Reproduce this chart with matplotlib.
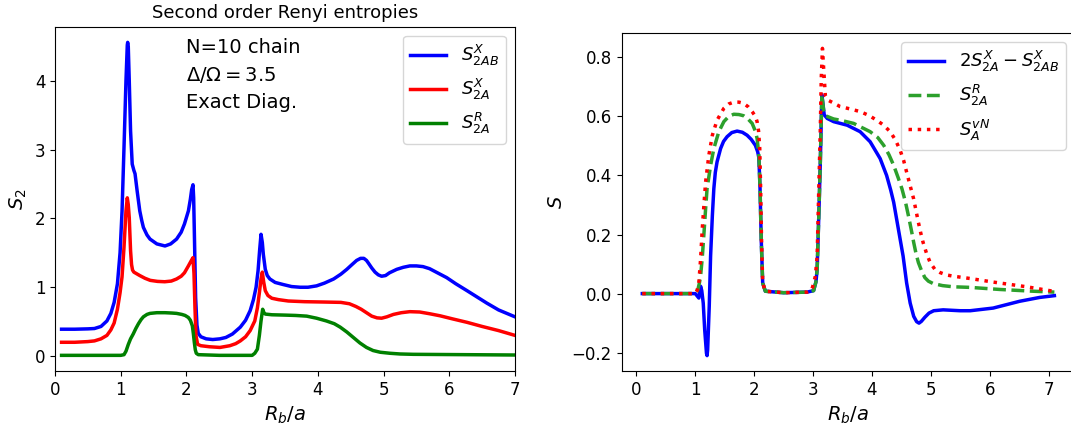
import matplotlib
matplotlib.use("Agg")
import matplotlib.pyplot as plt

# ---- left panel: second order Renyi entropies ----
rb_ab = [0.1, 0.3, 0.5, 0.6, 0.7, 0.79, 0.85, 0.9, 0.95, 0.99, 1.02, 1.05, 1.08,
         1.1, 1.106, 1.115, 1.13, 1.15, 1.175, 1.2, 1.218, 1.25, 1.29, 1.32, 1.345,
         1.4, 1.446, 1.55, 1.674, 1.76, 1.85, 1.92, 1.97, 2.03, 2.06, 2.08, 2.1,
         2.11, 2.12, 2.14, 2.16, 2.18, 2.22, 2.3, 2.4, 2.51, 2.6, 2.7, 2.82, 2.9,
         2.97, 3.02, 3.06, 3.09, 3.115, 3.135, 3.155, 3.17, 3.2, 3.23, 3.27, 3.35,
         3.47, 3.6, 3.73, 3.85, 3.98, 4.1, 4.24, 4.35, 4.44, 4.52, 4.59, 4.65, 4.7,
         4.74, 4.77, 4.82, 4.87, 4.92, 4.97, 5.03, 5.09, 5.2, 5.3, 5.4, 5.5, 5.6,
         5.7, 5.82, 5.96, 6.1, 6.27, 6.42, 6.57, 6.75, 6.9, 7.0]
s2ab = [0.39, 0.39, 0.395, 0.40, 0.43, 0.51, 0.62, 0.78, 1.05, 1.5, 2.1, 3.03, 4.0,
        4.52, 4.56, 4.5, 4.0, 3.27, 2.79, 2.7, 2.65, 2.40, 2.11, 1.97, 1.87,
        1.76, 1.70, 1.63, 1.60, 1.63, 1.70, 1.80, 1.92, 2.11, 2.28, 2.42, 2.49,
        2.3, 1.82, 0.85, 0.45, 0.33, 0.28, 0.25, 0.24, 0.25, 0.27, 0.32, 0.42, 0.52,
        0.66, 0.82, 1.0, 1.24, 1.55, 1.77, 1.65, 1.48, 1.26, 1.17, 1.12, 1.07,
        1.04, 1.01, 1.0, 1.0, 1.02, 1.06, 1.12, 1.19, 1.26, 1.33, 1.39, 1.42, 1.42,
        1.39, 1.35, 1.28, 1.22, 1.18, 1.16, 1.17, 1.21, 1.26, 1.29, 1.31, 1.31, 1.30,
        1.27, 1.21, 1.14, 1.05, 0.95, 0.86, 0.77, 0.67, 0.61, 0.57]

rb_a = [0.1, 0.3, 0.5, 0.6, 0.7, 0.79, 0.85, 0.9, 0.95, 0.99, 1.02, 1.05, 1.08,
        1.1, 1.115, 1.13, 1.15, 1.165, 1.18, 1.2, 1.29, 1.37, 1.45, 1.56, 1.67,
        1.77, 1.85, 1.92, 1.97, 2.03, 2.07, 2.1, 2.115, 2.13, 2.145, 2.17, 2.22,
        2.35, 2.51, 2.66, 2.75, 2.82, 2.9, 2.97, 3.04, 3.08, 3.11, 3.135, 3.155,
        3.175, 3.2, 3.24, 3.3, 3.4, 3.55, 3.8, 4.1, 4.35, 4.48, 4.58, 4.66, 4.74,
        4.82, 4.9, 4.97, 5.05, 5.15, 5.27, 5.4, 5.55, 5.7, 5.86, 6.05, 6.27, 6.5,
        6.75, 7.0]
s2a = [0.20, 0.20, 0.21, 0.22, 0.25, 0.30, 0.38, 0.48, 0.68, 0.92, 1.15, 1.58, 2.11,
       2.30, 2.2, 2.01, 1.53, 1.33, 1.25, 1.22, 1.17, 1.13, 1.10, 1.085, 1.08,
       1.09, 1.12, 1.16, 1.21, 1.31, 1.38, 1.43, 1.2, 0.7, 0.3, 0.17, 0.15,
       0.135, 0.125, 0.15, 0.18, 0.22, 0.28, 0.37, 0.51, 0.7, 0.92, 1.12, 1.22,
       1.08, 0.95, 0.88, 0.84, 0.82, 0.80, 0.79, 0.785, 0.78, 0.76, 0.72, 0.68, 0.63,
       0.58, 0.555, 0.55, 0.57, 0.605, 0.63, 0.645, 0.64, 0.615, 0.585, 0.54, 0.49, 0.43,
       0.37, 0.30]

rb_r = [0.1, 1.0, 1.05, 1.08, 1.116, 1.15, 1.19, 1.23, 1.27, 1.31, 1.345, 1.4,
        1.446, 1.55, 1.674, 1.78, 1.85, 1.93, 1.98, 2.03, 2.06, 2.09, 2.105, 2.12,
        2.135, 2.15, 2.18, 2.5, 3.0, 3.04, 3.08, 3.11, 3.135, 3.16, 3.18, 3.2, 3.3,
        3.5, 3.66, 3.83, 3.98, 4.13, 4.25, 4.34, 4.44, 4.54, 4.64, 4.74, 4.84, 4.95,
        5.1, 5.25, 5.45, 6.23, 7.0]
s2r = [0.01, 0.01, 0.02, 0.07, 0.17, 0.25, 0.32, 0.40, 0.47, 0.53, 0.57, 0.605,
       0.62, 0.63, 0.63, 0.625, 0.62, 0.605, 0.59, 0.56, 0.52, 0.44, 0.33, 0.2,
       0.09, 0.04, 0.02, 0.01, 0.01, 0.04, 0.1, 0.3, 0.51, 0.68, 0.63, 0.61, 0.60,
       0.595, 0.59, 0.58, 0.55, 0.51, 0.47, 0.42, 0.35, 0.27, 0.19, 0.125, 0.08, 0.055,
       0.04, 0.03, 0.025, 0.02, 0.015]

# ---- right panel ----
rb_mi = [0.1, 1.0, 1.06, 1.09, 1.11, 1.135, 1.16, 1.19, 1.2, 1.21, 1.237, 1.26,
         1.29, 1.315, 1.34, 1.37, 1.43, 1.48, 1.54, 1.62, 1.71, 1.8, 1.88, 1.95,
         2.02, 2.06, 2.08, 2.1, 2.12, 2.145, 2.19, 2.5, 2.9, 3.01, 3.05, 3.07, 3.1,
         3.124, 3.15, 3.17, 3.19, 3.24, 3.35, 3.58, 3.8, 3.97, 4.14, 4.25, 4.32,
         4.37, 4.45, 4.53, 4.59, 4.65, 4.71, 4.76, 4.8, 4.84, 4.9, 4.97, 5.05, 5.21,
         5.5, 5.67, 6.06, 6.51, 6.85, 7.1]
mi = [0.0, 0.0, -0.015, 0.025, 0.01, -0.032, -0.123, -0.202, -0.21, -0.19, -0.043, 0.127,
      0.264, 0.355, 0.41, 0.446, 0.491, 0.515, 0.531, 0.545, 0.550, 0.546, 0.536, 0.522,
      0.502, 0.48, 0.46, 0.355, 0.184, 0.036, 0.008, 0.003, 0.005, 0.01, 0.04, 0.082, 0.275,
      0.446, 0.673, 0.64, 0.605, 0.593, 0.582, 0.570, 0.548, 0.514, 0.457, 0.40, 0.35,
      0.309, 0.218, 0.127, 0.036, -0.032, -0.077, -0.095, -0.1, -0.094, -0.08, -0.066, -0.058, -0.055,
      -0.058, -0.058, -0.049, -0.026, -0.013, -0.007]

rb_r2 = [0.1, 1.0, 1.045, 1.07, 1.09, 1.118, 1.146, 1.175, 1.2, 1.26, 1.315, 1.40,
         1.485, 1.57, 1.654, 1.74, 1.82, 1.9, 1.966, 2.02, 2.05, 2.08, 2.1, 2.12,
         2.145, 2.19, 2.5, 2.9, 3.01, 3.05, 3.07, 3.1, 3.124, 3.15, 3.18, 3.21, 3.35,
         3.46, 3.69, 3.97, 4.1, 4.2, 4.29, 4.37, 4.45, 4.51, 4.57, 4.62, 4.67, 4.71,
         4.75, 4.79, 4.85, 4.90, 4.96, 5.04, 5.2, 5.38, 5.67, 6.17, 6.74, 7.1]
sr2 = [0.0, 0.0, 0.014, 0.036, 0.059, 0.12, 0.2, 0.286, 0.355, 0.434, 0.491, 0.548,
       0.582, 0.600, 0.607, 0.606, 0.602, 0.59, 0.576, 0.55, 0.525, 0.468, 0.355, 0.184,
       0.036, 0.008, 0.003, 0.005, 0.01, 0.04, 0.082, 0.275, 0.446, 0.673, 0.62, 0.602, 0.591,
       0.587, 0.576, 0.548, 0.528, 0.502, 0.47, 0.434, 0.39, 0.355, 0.31, 0.264, 0.215, 0.173,
       0.135, 0.105, 0.074, 0.054, 0.042, 0.034, 0.027, 0.023, 0.021, 0.014, 0.008, 0.005]

rb_vn = [0.1, 1.0, 1.03, 1.06, 1.09, 1.118, 1.146, 1.175, 1.23, 1.29, 1.37, 1.485,
         1.57, 1.654, 1.74, 1.82, 1.9, 1.966, 2.02, 2.05, 2.075, 2.095, 2.11, 2.125,
         2.145, 2.19, 2.5, 2.9, 2.98, 3.04, 3.07, 3.095, 3.124, 3.14, 3.16, 3.18, 3.21,
         3.25, 3.35, 3.46, 3.63, 3.80, 3.95, 4.08, 4.2, 4.31, 4.4, 4.48, 4.54, 4.59,
         4.65, 4.71, 4.75, 4.79, 4.83, 4.87, 4.93, 4.99, 5.07, 5.16, 5.27, 5.38, 5.67,
         6.06, 6.63, 7.08]
svn = [0.0, 0.0, 0.01, 0.036, 0.116, 0.218, 0.298, 0.377, 0.468, 0.536, 0.587, 0.627,
       0.642, 0.648, 0.648, 0.644, 0.632, 0.616, 0.6, 0.582, 0.55, 0.491, 0.355, 0.184,
       0.036, 0.008, 0.003, 0.005, 0.013, 0.059, 0.127, 0.332, 0.559, 0.73, 0.83, 0.764, 0.668,
       0.655, 0.645, 0.633, 0.625, 0.616, 0.603, 0.587, 0.57, 0.548, 0.52, 0.485, 0.45, 0.411,
       0.365, 0.32, 0.28, 0.241, 0.205, 0.173, 0.135, 0.105, 0.082, 0.071, 0.063, 0.059, 0.051,
       0.039, 0.023, 0.008]

xticks = list(range(8))
yticks_right = [-0.2, 0.0, 0.2, 0.4, 0.6, 0.8]

fig = plt.figure(figsize=(10.71, 4.24), dpi=100)
ax1 = fig.add_axes([55/1071, 53/424, 460/1071, 344.3/424])
ax2 = fig.add_axes([621.7/1071, 53/424, 453.3/1071, 338/424])

lw = 2.5
ax1.plot(rb_ab, s2ab, color="blue", lw=lw, label=r"$S^X_{2AB}$")
ax1.plot(rb_a, s2a, color="red", lw=lw, label=r"$S^X_{2A}$")
ax1.plot(rb_r, s2r, color="green", lw=lw, label=r"$S^R_{2A}$")
ax1.set_xlim(0, 7)
ax1.set_xticks(xticks)
ax1.set_title("Second order Renyi entropies", fontsize=13)
ax1.set_xlabel(r"$R_b/a$", fontsize=14)
ax1.set_ylabel(r"$S_2$", fontsize=14)
ax1.tick_params(labelsize=12)
ax1.legend(loc="upper right", fontsize=13)
ax1.text(2.0, 4.4, "N=10 chain", fontsize=14)
ax1.text(2.0, 4.0, r"$\Delta/\Omega=3.5$", fontsize=14)
ax1.text(2.0, 3.6, "Exact Diag.", fontsize=14)

ax2.plot(rb_mi, mi, color="blue", lw=lw, label=r"$2S^X_{2A}-S^X_{2AB}$")
ax2.plot(rb_r2, sr2, color="tab:green", lw=lw, ls="--", label=r"$S^R_{2A}$")
ax2.plot(rb_vn, svn, color="red", lw=lw, ls=":", label=r"$S^{vN}_A$")
ax2.set_xticks(xticks)
ax2.set_yticks(yticks_right)
ax2.set_xlabel(r"$R_b/a$", fontsize=14)
ax2.set_ylabel(r"$S$", fontsize=14)
ax2.tick_params(labelsize=12)
ax2.legend(loc="upper right", fontsize=13)

fig.savefig("out.png", dpi=100)
